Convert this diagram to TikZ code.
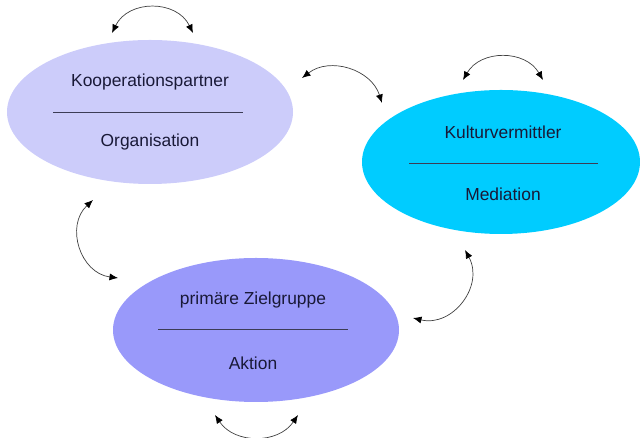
\documentclass[tikz,border=0pt]{standalone}
\usepackage{fontspec}
\setmainfont{Liberation Sans}
\usepackage{tikz}
\usetikzlibrary{shapes,positioning}
\usetikzlibrary{calc}
\usetikzlibrary{arrows.meta}
\definecolor{koopfill}{RGB}{204,204,250}
\definecolor{kulturfill}{RGB}{0,204,255}
\definecolor{zielfill}{RGB}{153,153,250}
\definecolor{textdark}{RGB}{25,25,55}
\tikzset{
	bereich/.style={ellipse,minimum width=286pt,minimum height=144pt,inner sep=0pt},
	titel/.style={text=textdark,font=\fontsize{17.4}{20}\selectfont,inner sep=0pt},
	trenn/.style={draw=textdark!85,line width=0.8pt},
	wechsel/.style={{Latex[length=8.5pt,width=7pt,color=black]}-{Latex[length=8.5pt,width=7pt,color=black]},line width=0.7pt,draw=black!75}
}

\begin{document}
\begin{tikzpicture}[x=1pt,y=1pt]
	
	\useasboundingbox (0,0) rectangle (640,438);
	
	%Ellipses
	\node[bereich,fill=koopfill] (koop) at (150,326) {};
	\node[bereich,fill=kulturfill,minimum width=278pt] (kultur) at (501,276) {};
	\node[bereich,fill=zielfill] (ziel) at (256,108) {};
	
	%Textes
	\node[titel] (koopT) at ($(koop)+(0,30)$) {Kooperationspartner};
	\node[titel] (koopB) at ($(koop)+(0,-30)$) {Organisation};
	\node[titel] (kulturT) at ($(kultur)+(2,30)$) {Kulturvermittler};
	\node[titel] (kulturB) at ($(kultur)+(2,-32)$) {Mediation};
	\node[titel] (zielT) at ($(ziel)+(-3,30)$) {primäre Zielgruppe};
	\node[titel] (zielB) at ($(ziel)+(-3,-33)$) {Aktion};
	
	%Traits
	\draw[trenn] ($(koop)+(-97,0)$) -- ($(koop)+(93,0)$);
	\draw[trenn] ($(kultur)+(-92,-1)$) -- ($(kultur)+(97,-1)$);
	\draw[trenn] ($(ziel)+(-98,1)$) -- ($(ziel)+(92,1)$);
	
	%Extremites des fleches
	\coordinate (a1) at (112,405); \coordinate (a2) at (193,405);
	\coordinate (b1) at (302,360); \coordinate (b2) at (382,335);
	\coordinate (c1) at (463,358); \coordinate (c2) at (543,358);
	\coordinate (d1) at (93,238);  \coordinate (d2) at (118,160);
	\coordinate (e1) at (465,188); \coordinate (e2) at (413,120);
	\coordinate (f1) at (215,23);  \coordinate (f2) at (298,23);
	
	%Fleches
	\draw[wechsel] (a1) to[bend left=64,looseness=1.18] (a2);
	\draw[wechsel] (b1) to[bend left=55,looseness=1.08] (b2);
	\draw[wechsel] (c1) to[bend left=60,looseness=1.13] (c2);
	\draw[wechsel] (d1) to[bend right=65,looseness=1.19] (d2);
	\draw[wechsel] (e1) to[bend left=66,looseness=1.22] (e2);
	\draw[wechsel] (f1) to[bend right=56,looseness=1.09] (f2);
	
\end{tikzpicture}
\end{document}
